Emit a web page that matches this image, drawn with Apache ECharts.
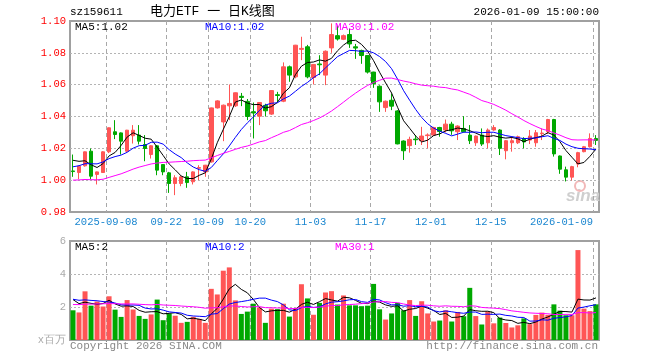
<!DOCTYPE html>
<html><head><meta charset="utf-8">
<script src="https://cdn.jsdelivr.net/npm/echarts@6/dist/echarts.min.js"></script>
<style>html,body{margin:0;padding:0;background:#fff}#c{width:660px;height:360px}</style>
</head><body><div id="c"></div><script>
// ---------- data ----------
const dates = [
 '2025-08-29',
 '2025-09-01','2025-09-02','2025-09-03','2025-09-04','2025-09-05','2025-09-08','2025-09-09','2025-09-10','2025-09-11','2025-09-12',
 '2025-09-15','2025-09-16','2025-09-17','2025-09-18','2025-09-19','2025-09-22','2025-09-23','2025-09-24','2025-09-25','2025-09-26',
 '2025-09-29','2025-09-30',
 '2025-10-09','2025-10-10','2025-10-13','2025-10-14','2025-10-15','2025-10-16','2025-10-17','2025-10-20','2025-10-21','2025-10-22',
 '2025-10-23','2025-10-24','2025-10-27','2025-10-28','2025-10-29','2025-10-30','2025-10-31',
 '2025-11-03','2025-11-04','2025-11-05','2025-11-06','2025-11-07','2025-11-10','2025-11-11','2025-11-12','2025-11-13','2025-11-14',
 '2025-11-17','2025-11-18','2025-11-19','2025-11-20','2025-11-21','2025-11-24','2025-11-25','2025-11-26','2025-11-27','2025-11-28',
 '2025-12-01','2025-12-02','2025-12-03','2025-12-04','2025-12-05','2025-12-08','2025-12-09','2025-12-10','2025-12-11','2025-12-12',
 '2025-12-15','2025-12-16','2025-12-17','2025-12-18','2025-12-19','2025-12-22','2025-12-23','2025-12-24','2025-12-25','2025-12-26',
 '2025-12-29','2025-12-30','2025-12-31',
 '2026-01-05','2026-01-06','2026-01-07','2026-01-08','2026-01-09'
];
const opens = [
 1.0058,1.0048,1.0090,1.0182,1.0036,1.0048,1.0178,1.0304,1.0297,1.0182,
 1.0279,1.0283,1.0224,1.0161,1.0216,1.0098,1.0046,0.9979,0.9979,1.0021,
 0.9990,1.0075,1.0052,1.0115,1.0454,1.0366,1.0467,1.0467,1.0527,1.0495,
 1.0430,1.0402,1.0470,1.0415,1.0537,1.0496,1.0712,1.0649,1.0822,1.0838,
 1.0645,1.0730,1.0660,1.0831,1.0908,1.0885,1.0915,1.0838,1.0815,1.0783,
 1.0679,1.0590,1.0456,1.0502,1.0435,1.0246,1.0217,1.0258,1.0248,1.0280,
 1.0283,1.0331,1.0315,1.0352,1.0304,1.0325,1.0283,1.0235,1.0283,1.0235,
 1.0315,1.0315,1.0185,1.0235,1.0235,1.0262,1.0252,1.0235,1.0292,1.0304,
 1.0381,1.0152,1.0065,1.0019,1.0102,1.0179,1.0210,1.0262
];
const closes = [
 1.0054,1.0088,1.0178,1.0025,1.0052,1.0178,1.0329,1.0287,1.0245,1.0314,
 1.0314,1.0245,1.0199,1.0216,1.0063,1.0052,0.9979,1.0015,1.0021,0.9985,
 1.0052,1.0079,1.0094,1.0454,1.0498,1.0471,1.0482,1.0549,1.0520,1.0400,
 1.0422,1.0488,1.0436,1.0563,1.0532,1.0712,1.0660,1.0848,1.0828,1.0649,
 1.0727,1.0725,1.0810,1.0915,1.0887,1.0908,1.0856,1.0830,1.0783,1.0679,
 1.0606,1.0492,1.0496,1.0465,1.0228,1.0185,1.0256,1.0254,1.0277,1.0284,
 1.0331,1.0306,1.0352,1.0310,1.0340,1.0304,1.0248,1.0277,1.0227,1.0315,
 1.0331,1.0200,1.0248,1.0248,1.0273,1.0240,1.0277,1.0298,1.0296,1.0381,
 1.0165,1.0069,1.0019,1.0085,1.0173,1.0210,1.0262,1.0250
];
const lows = [
 1.0021,1.0006,1.0085,1.0006,0.9973,1.0046,1.0170,1.0258,1.0161,1.0178,
 1.0230,1.0224,1.0119,1.0136,1.0031,1.0031,0.9920,0.9906,0.9962,0.9952,
 0.9973,1.0000,1.0021,1.0110,1.0450,1.0245,1.0377,1.0460,1.0465,1.0377,
 1.0262,1.0346,1.0400,1.0410,1.0490,1.0490,1.0618,1.0640,1.0754,1.0640,
 1.0601,1.0660,1.0597,1.0800,1.0877,1.0880,1.0831,1.0762,1.0731,1.0670,
 1.0580,1.0429,1.0429,1.0440,1.0225,1.0127,1.0173,1.0221,1.0221,1.0200,
 1.0280,1.0273,1.0300,1.0285,1.0252,1.0300,1.0227,1.0215,1.0215,1.0200,
 1.0310,1.0158,1.0131,1.0179,1.0227,1.0200,1.0227,1.0210,1.0252,1.0290,
 1.0148,1.0040,0.9992,0.9998,1.0081,1.0175,1.0205,1.0221
];
const highs = [
 1.0161,1.0090,1.0180,1.0199,1.0054,1.0182,1.0331,1.0377,1.0300,1.0316,
 1.0346,1.0346,1.0283,1.0220,1.0220,1.0100,1.0052,1.0031,1.0025,1.0052,
 1.0056,1.0094,1.0096,1.0456,1.0502,1.0475,1.0601,1.0551,1.0548,1.0510,
 1.0488,1.0490,1.0480,1.0566,1.0555,1.0740,1.0720,1.0850,1.0901,1.0850,
 1.0730,1.0785,1.0815,1.0985,1.0971,1.0915,1.0950,1.0856,1.0820,1.0785,
 1.0681,1.0596,1.0500,1.0544,1.0440,1.0250,1.0273,1.0283,1.0335,1.0294,
 1.0335,1.0335,1.0381,1.0367,1.0345,1.0402,1.0346,1.0280,1.0325,1.0325,
 1.0346,1.0320,1.0252,1.0273,1.0280,1.0270,1.0315,1.0315,1.0325,1.0385,
 1.0385,1.0155,1.0085,1.0090,1.0178,1.0215,1.0294,1.0283
];
// volume, millions
const volumes = [
 1.80,1.67,2.95,2.08,2.33,2.03,2.65,1.84,1.40,2.42,
 1.85,1.46,1.28,1.55,2.45,1.20,1.60,1.47,1.04,1.10,
 1.40,1.28,1.04,3.10,2.76,4.20,4.40,2.40,1.58,1.72,
 2.20,1.97,1.04,1.90,1.87,2.20,1.42,1.92,3.38,2.52,
 1.53,2.25,2.88,2.96,2.15,2.70,2.10,2.10,2.05,2.08,
 3.40,1.86,1.24,1.61,2.25,1.80,2.42,1.46,2.35,1.61,
 1.12,1.18,1.80,1.12,1.70,1.44,3.16,1.45,0.94,1.73,
 1.01,1.36,1.03,0.76,0.89,1.31,0.96,1.52,1.66,1.52,
 2.16,1.78,1.50,1.50,5.45,1.90,1.75,2.16
];
// estimated closes / volumes of the 29 sessions before the window (only feed the moving averages)
const preCloses = [
 1.004,1.010,1.006,1.008,1.0066,
 0.998,0.995,0.991,0.988,0.986,0.987,0.990,0.992,0.989,0.993,0.995,0.994,0.996,0.993,0.9944,
 1.002,1.005,1.003,1.006,1.0056,1.012,1.016,1.015,1.014
];
const preVolumes = [
 1.8,2.2,1.9,2.1,1.7,2.3,2.0,1.9,2.4,1.8,2.1,1.9,2.0,1.7,2.2,2.1,1.9,2.0,1.8,2.0,
 2.3,2.7,2.4,2.55,2.5,
 2.9,2.5,2.45,2.6
];
const tickDates = ['2025-09-08','2025-09-22','2025-10-09','2025-10-20','2025-11-03','2025-11-17','2025-12-01','2025-12-15','2026-01-09'];
const tickLabels = ['2025-09-08','09-22','10-09','10-20','11-03','11-17','12-01','12-15','2026-01-09'];
const priceTicks = [0.98, 1.10, 0.02];
const volTicks = [0, 6, 2];
const priceLegend = ['MA5:1.02','MA10:1.02','MA30:1.02'];
const volLegend = ['MA5:2','MA10:2','MA30:1'];
const maPeriods = [5, 10, 30];
const maColors = ['#000000','#0000ff','#ff00ff'];

// ---------- helpers ----------
const MONO = "'Liberation Mono','DejaVu Sans Mono',monospace";
const RED = '#ff5555', GREEN = '#00a800';
function movingAvg(pre, vals, n){
  const all = pre.concat(vals);
  return vals.map((_, i) => {
    const end = pre.length + i; let s = 0;
    for (let k = end - n + 1; k <= end; k++) s += all[k];
    return +(s / n).toFixed(5);
  });
}
const kData = dates.map((d, i) => [opens[i], closes[i], lows[i], highs[i]]);
const volData = volumes.map((v, i) => ({value: v, itemStyle: {color: closes[i] >= opens[i] ? RED : GREEN}}));
const tickIdx = tickDates.map(d => dates.indexOf(d));
const edgeData = Array.from({length: dates.length + 1}, (_, j) => {
  const k = tickIdx.indexOf(j);
  if (k === tickIdx.length - 1) return {value: String(j), textStyle: {align: 'right'}};
  return String(j);
});
const edgeLabel = (v) => { const k = tickIdx.indexOf(+v); return k >= 0 ? tickLabels[k] : ''; };
const isTick = (idx) => tickIdx.indexOf(idx) >= 0;

const G0 = {left: 70, top: 21, width: 529, height: 191};
const G1 = {left: 70, top: 241, width: 529, height: 99};
const gridStyle = {show: true, borderColor: '#a0a0a0', borderWidth: 2, backgroundColor: '#fff'};

const hidden = {show: false};
function dataAxis(gi){
  return {type: 'category', gridIndex: gi, data: dates, boundaryGap: true, position: 'top',
    axisLine: hidden, axisTick: hidden, axisLabel: hidden, splitLine: hidden};
}
function edgeAxis(gi, labels){
  return {type: 'category', gridIndex: gi, data: edgeData, boundaryGap: false, position: 'bottom',
    axisLine: hidden, axisTick: hidden,
    axisLabel: labels ? {show: true, interval: 0, formatter: edgeLabel, color: '#1a86d0', fontFamily: MONO, fontSize: 10.5, margin: 5} : hidden,
    splitLine: {show: true, interval: (idx) => isTick(idx), lineStyle: {color: '#a8a8a8', type: [4, 3], width: 1}}};
}

const series = [
  {type: 'candlestick', xAxisIndex: 0, yAxisIndex: 0, data: kData, barWidth: 4,
   itemStyle: {color: RED, color0: GREEN, borderColor: RED, borderColor0: GREEN, borderWidth: 1}, z: 3}
];
maPeriods.forEach((n, k) => {
  series.push({type: 'line', xAxisIndex: 0, yAxisIndex: 0, data: movingAvg(preCloses, closes, n), showSymbol: false, symbol: 'none',
    lineStyle: {color: maColors[k], width: 1}, z: 5, silent: true});
});
series.push({type: 'bar', xAxisIndex: 2, yAxisIndex: 1, data: volData, barWidth: 5, z: 3});
maPeriods.forEach((n, k) => {
  series.push({type: 'line', xAxisIndex: 2, yAxisIndex: 1, data: movingAvg(preVolumes, volumes, n), showSymbol: false, symbol: 'none',
    lineStyle: {color: maColors[k], width: 1}, z: 5, silent: true});
});

const legendX = [75, 205, 335];
const graphic = [
  {type: 'text', left: 70, top: 7, style: {text: 'sz159611', font: '11px ' + MONO, fill: '#000'}},
  {type: 'text', left: 150, top: 5, style: {text: '电力ETF 一 日K线图', font: "13px 'Liberation Mono','Noto Sans CJK SC'", fill: '#000'}},
  {type: 'text', right: 61, top: 7, style: {text: '2026-01-09 15:00:00', font: '11px ' + MONO, fill: '#000'}},
  {type: 'text', left: 70, top: 341, style: {text: 'Copyright 2026 SINA.COM', font: '11px ' + MONO, fill: '#888'}},
  {type: 'text', right: 62, top: 341, style: {text: 'http://finance.sina.com.cn', font: '11px ' + MONO, fill: '#888'}},
  {type: 'text', left: 566, top: 188, style: {text: 'sina', font: 'italic bold 17px Arial, sans-serif', fill: '#cfcfcf'}},
  {type: 'circle', shape: {cx: 580, cy: 186, r: 5}, style: {fill: 'none', stroke: '#f2b8b8', lineWidth: 2}}
];
priceLegend.forEach((t, k) => graphic.push({type: 'text', left: legendX[k], top: 22, z: 10, style: {text: t, font: '11px ' + MONO, fill: maColors[k]}}));
volLegend.forEach((t, k) => graphic.push({type: 'text', left: legendX[k], top: 242, z: 10, style: {text: t, font: '11px ' + MONO, fill: maColors[k]}}));

const option = {
  animation: false,
  backgroundColor: '#fff',
  grid: [Object.assign({}, G0, gridStyle), Object.assign({}, G1, gridStyle)],
  xAxis: [dataAxis(0), edgeAxis(0, true), dataAxis(1), edgeAxis(1, false)],
  yAxis: [
    {type: 'value', gridIndex: 0, min: priceTicks[0], max: priceTicks[1], interval: priceTicks[2], scale: true,
     axisLine: hidden, axisTick: hidden,
     axisLabel: {color: '#ff0000', fontFamily: MONO, fontSize: 10.5, margin: 4, formatter: v => v.toFixed(2)},
     splitLine: {show: true, showMinLine: false, showMaxLine: false, lineStyle: {color: '#b4b4b4', type: [2, 2], width: 1}}},
    {type: 'value', gridIndex: 1, min: volTicks[0], max: volTicks[1], interval: volTicks[2],
     axisLine: hidden, axisTick: hidden,
     axisLabel: {color: '#aaaaaa', fontFamily: MONO, fontSize: 10.5, margin: 4, formatter: v => v === 0 ? 'x百万' : String(v)},
     splitLine: {show: true, showMinLine: false, showMaxLine: false, lineStyle: {color: '#b4b4b4', type: [2, 2], width: 1}}}
  ],
  series: series,
  graphic: graphic
};
const chart = echarts.init(document.getElementById('c'), null, {renderer: 'canvas'});
chart.setOption(option);
</script></body></html>
